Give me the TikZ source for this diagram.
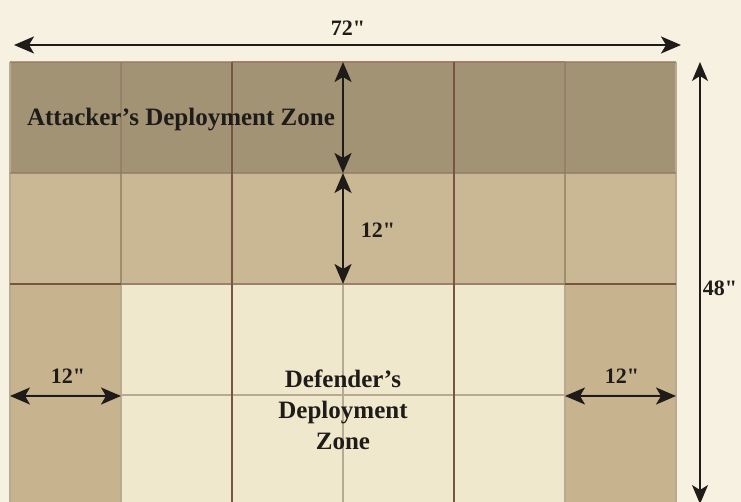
\documentclass[tikz,border=0pt]{standalone}
\usepackage{fontspec}
\setmainfont{Liberation Serif}[Ligatures=TeXOff]
\usetikzlibrary{arrows.meta}
\definecolor{parch}{HTML}{F6F1E0}
\definecolor{attack}{HTML}{A39375}
\definecolor{midrow}{HTML}{C9B893}
\definecolor{side}{HTML}{C7B48F}
\definecolor{cream}{HTML}{F0E8CC}
\definecolor{majorln}{HTML}{7A5442}
\definecolor{midln}{HTML}{9E8068}
\definecolor{minorln}{HTML}{8E7C62}
\definecolor{faintln}{HTML}{B8A992}
\definecolor{ink}{HTML}{1E1B19}
\tikzset{
  tip/.style={Stealth[length=20pt,width=17pt,inset=5pt]},
  dim/.style={line width=2.2pt, ink, {Stealth[length=20pt,width=17pt,inset=5pt]}-{Stealth[length=20pt,width=17pt,inset=5pt]}},
  dimthin/.style={line width=1.6pt, ink, {Stealth[length=19pt,width=16pt,inset=5pt]}-{Stealth[length=19pt,width=16pt,inset=5pt]}},
  lbl/.style={font=\fontsize{22}{26}\selectfont\bfseries, text=ink, inner sep=0pt},
  zone/.style={font=\fontsize{25}{31}\selectfont\bfseries, text=ink, align=center, inner sep=0pt},
  major/.style={majorln, line width=1.6pt},
  medium/.style={midln, line width=1.4pt},
  minor/.style={minorln, opacity=0.7, line width=1.2pt},
  faint/.style={faintln, line width=1.2pt}
}
\begin{document}
\begin{tikzpicture}[x=1pt,y=-1pt]
\useasboundingbox (0,0) rectangle (741,502);
\clip (0,0) rectangle (741,502);
\fill[parch] (0,0) rectangle (741,502);
% zones
\fill[attack] (10,62) rectangle (676,173);
\fill[midrow] (10,173) rectangle (676,284);
\fill[side] (10,284) rectangle (121,506);
\fill[side] (565,284) rectangle (676,506);
\fill[cream] (121,284) rectangle (565,506);
% minor grid lines
\draw[minor] (121,62) -- (121,284);
\draw[minor] (565,62) -- (565,284);
\draw[faint] (121,284) -- (121,506);
\draw[faint] (565,284) -- (565,506);
\draw[faint] (343,284) -- (343,506);
\draw[faint] (10,395) -- (676,395);
\draw[faint] (10,62) -- (10,506);
\draw[faint] (676,62) -- (676,506);
\draw[minor] (10,173) -- (676,173);
\draw[minor] (10,62) -- (232,62);
\draw[minor] (565,62) -- (676,62);
% major grid lines
\draw[medium] (121,284) -- (565,284);
\draw[major] (10,284) -- (121,284);
\draw[major] (565,284) -- (676,284);
\draw[medium] (232,62) -- (565,62);
\draw[major] (232,62) -- (232,506);
\draw[major] (454,62) -- (454,506);
% coordinates for dimension arrows
\coordinate (wl) at (14,45);
\coordinate (wr) at (681,45);
\coordinate (ht) at (700,62);
\coordinate (hb) at (700,504);
\coordinate (at) at (343,62);
\coordinate (am) at (343,173);
\coordinate (ab) at (343,284);
\coordinate (ll) at (10,396);
\coordinate (lr) at (121,396);
\coordinate (rl) at (565,396);
\coordinate (rr) at (676,396);
% arrows
\draw[dim] (wl) -- (wr);
\draw[dimthin] (ht) -- (hb);
\draw[dim] (at) -- (am);
\draw[dim] (am) -- (ab);
\draw[dim] (ll) -- (lr);
\draw[dim] (rl) -- (rr);
% labels
\node[lbl] (w) at (348,28) {72"};
\node[lbl] (h) at (720,288) {48"};
\node[lbl] (a12) at (378,230) {12"};
\node[lbl] (l12) at (68,376) {12"};
\node[lbl] (r12) at (622,376) {12"};
\node[zone] (att) at (181,120) {Attacker’s Deployment Zone};
\node[zone] (def) at (343,410) {Defender’s\\Deployment\\Zone};
\end{tikzpicture}
\end{document}
